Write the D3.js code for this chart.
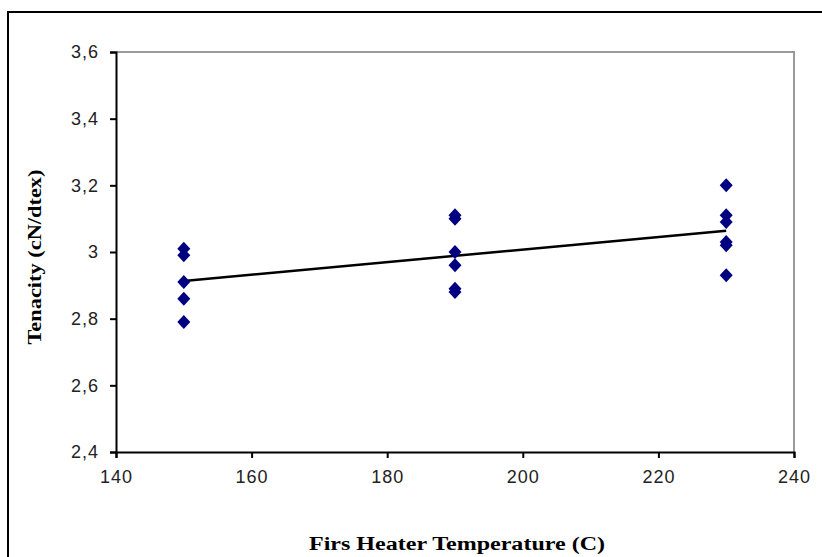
<!DOCTYPE html>
<html>
<head>
<meta charset="utf-8">
<script src="https://cdn.jsdelivr.net/npm/d3@7"></script>
<style>
  body { margin: 0; background: #fff; }
  svg { display: block; }
</style>
</head>
<body>
<svg id="chart"></svg>
<script>
// data
const temps = [150, 190, 230];
const tenacity150 = [3.01, 2.99, 2.91, 2.86, 2.79];
const tenacity190 = [3.11, 3.10, 3.00, 2.96, 2.89, 2.88];
const tenacity230 = [3.20, 3.11, 3.09, 3.03, 3.02, 2.93];
const xTicks = [140, 160, 180, 200, 220, 240];
const yTicks = [2.4, 2.6, 2.8, 3.0, 3.2, 3.4, 3.6];

const width = 822, height = 557;
const plot = { left: 116, right: 794, top: 52, bottom: 452 };

const points = [];
[tenacity150, tenacity190, tenacity230].forEach((vals, i) => {
  vals.forEach(v => points.push({ x: temps[i], y: v }));
});

const svg = d3.select("#chart")
    .attr("width", width)
    .attr("height", height);

// outer chart frame (runs off the bottom/right of the picture)
svg.append("rect")
    .attr("x", 8).attr("y", 12)
    .attr("width", 830).attr("height", 560)
    .attr("fill", "#fff")
    .attr("stroke", "#000")
    .attr("stroke-width", 2);

const x = d3.scaleLinear().domain([140, 240]).range([plot.left, plot.right]);
const y = d3.scaleLinear().domain([2.4, 3.6]).range([plot.bottom, plot.top]);

// plot area border, grey top and right
svg.append("path")
    .attr("d", `M${plot.left},${plot.top}H${plot.right}V${plot.bottom}`)
    .attr("fill", "none")
    .attr("stroke", "#9a9a9a")
    .attr("stroke-width", 2);

const fmt = d => d3.format(".1f")(d).replace(".", ",").replace(",0", "");

const yAxis = svg.append("g")
    .attr("transform", `translate(${plot.left},0)`)
    .call(d3.axisLeft(y).tickValues(yTicks).tickSize(6).tickPadding(11).tickFormat(fmt));

const xAxis = svg.append("g")
    .attr("transform", `translate(0,${plot.bottom})`)
    .call(d3.axisBottom(x).tickValues(xTicks).tickSize(6).tickPadding(12).tickFormat(d3.format("d")));

[xAxis, yAxis].forEach(g => {
  g.select(".domain").attr("stroke", "#000").attr("stroke-width", 2);
  g.selectAll(".tick line").attr("stroke", "#000").attr("stroke-width", 2);
  g.selectAll("text")
      .attr("fill", "#222")
      .style("font", "18px 'Liberation Sans', Arial, sans-serif")
      .style("letter-spacing", "1px");
});

// least squares trend line over the data range
const mx = d3.mean(points, d => d.x), my = d3.mean(points, d => d.y);
const slope = d3.sum(points, d => (d.x - mx) * (d.y - my)) / d3.sum(points, d => (d.x - mx) ** 2);
const trend = d3.extent(points, d => d.x).map(t => ({ x: t, y: my + slope * (t - mx) }));

svg.append("path")
    .datum(trend)
    .attr("d", d3.line().x(d => x(d.x)).y(d => y(d.y)))
    .attr("fill", "none")
    .attr("stroke", "#000")
    .attr("stroke-width", 2.5);

// diamond markers
svg.append("g")
    .selectAll("path")
    .data(points)
    .join("path")
    .attr("transform", d => `translate(${x(d.x)},${y(d.y)})`)
    .attr("d", "M0,-7L6.5,0L0,7L-6.5,0Z")
    .attr("fill", "#000080");

// axis titles
svg.append("text")
    .attr("x", 457).attr("y", 550)
    .attr("text-anchor", "middle")
    .attr("textLength", 296)
    .attr("lengthAdjust", "spacingAndGlyphs")
    .style("font", "bold 18px 'Liberation Serif', 'Times New Roman', serif")
    .text("Firs Heater Temperature (C)");

svg.append("text")
    .attr("transform", "translate(41,257) rotate(-90)")
    .attr("text-anchor", "middle")
    .attr("textLength", 175)
    .attr("lengthAdjust", "spacingAndGlyphs")
    .style("font", "bold 18px 'Liberation Serif', 'Times New Roman', serif")
    .text("Tenacity (cN/dtex)");
</script>
</body>
</html>
